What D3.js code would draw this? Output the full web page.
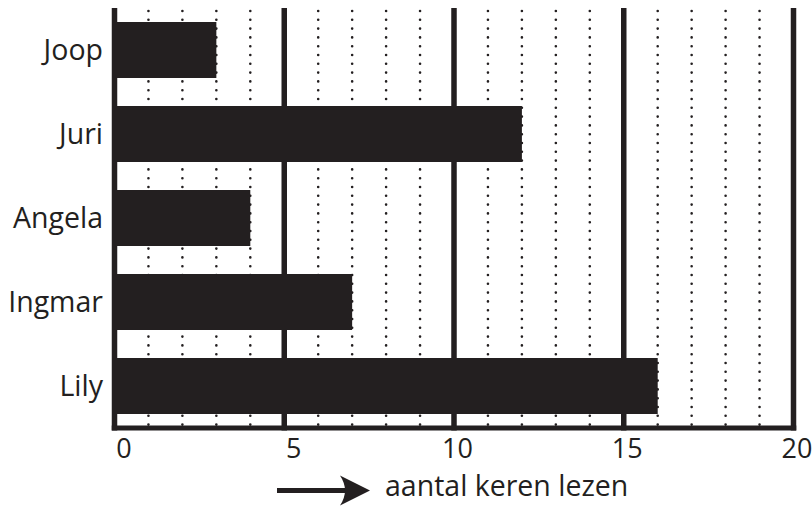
<!DOCTYPE html>
<html>
<head>
<meta charset="utf-8">
<script src="https://cdn.jsdelivr.net/npm/d3@7"></script>
<style>
  body { margin: 0; background: #fff; }
  text { font-family: "Open Sans", sans-serif; fill: #231f20; }
</style>
</head>
<body>
<svg id="chart" width="812" height="506"></svg>
<script>
// names and how often each one read
const names = ['Joop', 'Juri', 'Angela', 'Ingmar', 'Lily'];
const counts = [3, 12, 4, 7, 16];
const majorTicks = [0, 5, 10, 15, 20];
const minorTicks = [1, 2, 3, 4, 6, 7, 8, 9, 11, 12, 13, 14, 16, 17, 18, 19];
const axisTitle = 'aantal keren lezen';

const ink = '#231f20';
const svg = d3.select('#chart');

// plot area
const plotTop = 8, plotBottom = 428;
const x = d3.scaleLinear().domain([0, 20]).range([114.5, 793.5]);
const y = d3.scaleBand().domain(names).range([plotTop, plotBottom])
  .paddingInner(1 / 3).paddingOuter(1 / 6);

// dotted grid lines
svg.append('g')
  .selectAll('line')
  .data(minorTicks)
  .join('line')
  .attr('x1', d => x(d)).attr('x2', d => x(d))
  .attr('y1', plotTop + 3).attr('y2', plotBottom + 4)
  .attr('stroke', ink)
  .attr('stroke-width', 2.6)
  .attr('stroke-linecap', 'round')
  .attr('stroke-dasharray', '0 8.8');

// thick lines at every 5
svg.append('g')
  .selectAll('line')
  .data(majorTicks)
  .join('line')
  .attr('x1', d => x(d)).attr('x2', d => x(d))
  .attr('y1', plotTop).attr('y2', plotBottom + 2.5)
  .attr('stroke', ink)
  .attr('stroke-width', 5.5);

// bars
svg.append('g')
  .selectAll('rect')
  .data(counts)
  .join('rect')
  .attr('x', x(0))
  .attr('y', (d, i) => y(names[i]))
  .attr('width', d => x(d) - x(0))
  .attr('height', y.bandwidth())
  .attr('fill', ink);

// bottom axis line
svg.append('line')
  .attr('x1', x(0) - 2.75).attr('x2', x(20) + 2.75)
  .attr('y1', plotBottom).attr('y2', plotBottom)
  .attr('stroke', ink)
  .attr('stroke-width', 5);

// name labels
svg.append('g')
  .attr('transform', 'translate(103,0)')
  .call(d3.axisLeft(y).tickSize(0).tickPadding(0))
  .call(g => g.select('.domain').remove())
  .selectAll('text')
  .attr('font-size', 28.5)
  .attr('font-family', '"Open Sans", sans-serif')
  .attr('fill', ink)
  .attr('dy', '0.34em');

// tick labels
svg.append('g')
  .attr('transform', `translate(0,${plotBottom})`)
  .call(d3.axisBottom(x).tickValues(majorTicks).tickSize(0).tickPadding(0))
  .call(g => g.select('.domain').remove())
  .selectAll('text')
  .attr('font-size', 27)
  .attr('font-family', '"Open Sans", sans-serif')
  .attr('fill', ink)
  .attr('dy', 0)
  .attr('y', 29.5)
  .attr('dx', d => d < 10 ? 9 : 3);

// axis title with arrow
const arrowY = 490.5;
svg.append('line')
  .attr('x1', 277).attr('x2', 352)
  .attr('y1', arrowY).attr('y2', arrowY)
  .attr('stroke', ink)
  .attr('stroke-width', 5);
svg.append('path')
  .attr('d', `M370,${arrowY} L340,${arrowY - 15} Q350,${arrowY} 340,${arrowY + 15} Z`)
  .attr('fill', ink);
svg.append('text')
  .attr('x', 385)
  .attr('y', 496)
  .attr('font-size', 28.5)
  .text(axisTitle);
</script>
</body>
</html>
